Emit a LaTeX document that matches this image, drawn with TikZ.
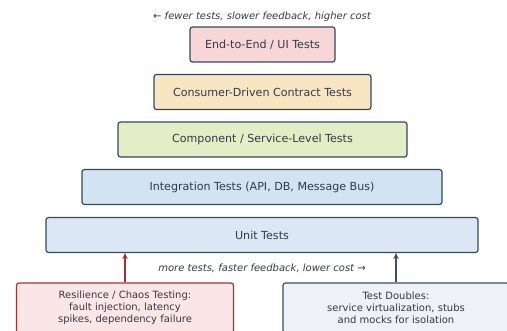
\documentclass[tikz,border=0pt]{standalone}
\usepackage{fontspec}
\setmainfont{DejaVu Sans}
\usetikzlibrary{arrows.meta}
\definecolor{edge}{HTML}{34495E}
\definecolor{ink}{HTML}{333A44}
\definecolor{eefill}{HTML}{F7D6D8}
\definecolor{ctfill}{HTML}{F8E6C2}
\definecolor{cpfill}{HTML}{E3EEC7}
\definecolor{itfill}{HTML}{D2E3F1}
\definecolor{utfill}{HTML}{DCE7F6}
\definecolor{chaosedge}{HTML}{A33236}
\definecolor{chaosfill}{HTML}{FBE6E7}
\definecolor{dbledge}{HTML}{3D4F6B}
\definecolor{dblfill}{HTML}{EEF1F6}
\tikzset{
  layer/.style={draw=edge, line width=1.2pt, rounded corners=2.5pt, text=ink,
    font=\fontsize{11.1}{13}\selectfont, inner sep=0pt, minimum height=35pt},
  note/.style={line width=1.2pt, rounded corners=2.5pt, text=ink,
    font=\fontsize{10}{12}\selectfont, align=center, inner sep=0pt,
    minimum height=50pt},
  caption/.style={text=ink, font=\fontsize{10}{12}\selectfont\itshape, inner sep=0pt},
  feed/.style={line width=1.4pt, -{Stealth[length=6pt,width=5.5pt]}}
}
\begin{document}
\begin{tikzpicture}[x=1pt,y=-1pt]
\useasboundingbox (0,0) rectangle (507,331);
\clip (0,0) rectangle (507,331);
\node[caption] (top) at (262,17) {← fewer tests, slower feedback, higher cost};
\node[layer, fill=eefill, minimum width=145pt] (e2e) at (262.5,44.5) {End-to-End / UI Tests};
\node[layer, fill=ctfill, minimum width=217pt] (contract) at (262.5,92) {Consumer-Driven Contract Tests};
\node[layer, fill=cpfill, minimum width=289pt] (component) at (262.5,139.5) {Component / Service-Level Tests};
\node[layer, fill=itfill, minimum width=360pt] (integration) at (262,187) {Integration Tests (API, DB, Message Bus)};
\node[layer, fill=utfill, minimum width=432pt] (unit) at (262,235) {Unit Tests};
\node[caption] (bottom) at (262,268) {more tests, faster feedback, lower cost →};
\node[note, draw=chaosedge, fill=chaosfill, minimum width=217pt] (chaos) at (125,308)
  {Resilience / Chaos Testing:\\fault injection, latency\\spikes, dependency failure};
\node[note, draw=dbledge, fill=dblfill, minimum width=226pt] (doubles) at (396,308)
  {Test Doubles:\\service virtualization, stubs\\and mocks for isolation};
\draw[feed, chaosedge] (chaos.north) -- (unit.south -| chaos.north);
\draw[feed, dbledge] (doubles.north) -- (unit.south -| doubles.north);
\end{tikzpicture}
\end{document}
